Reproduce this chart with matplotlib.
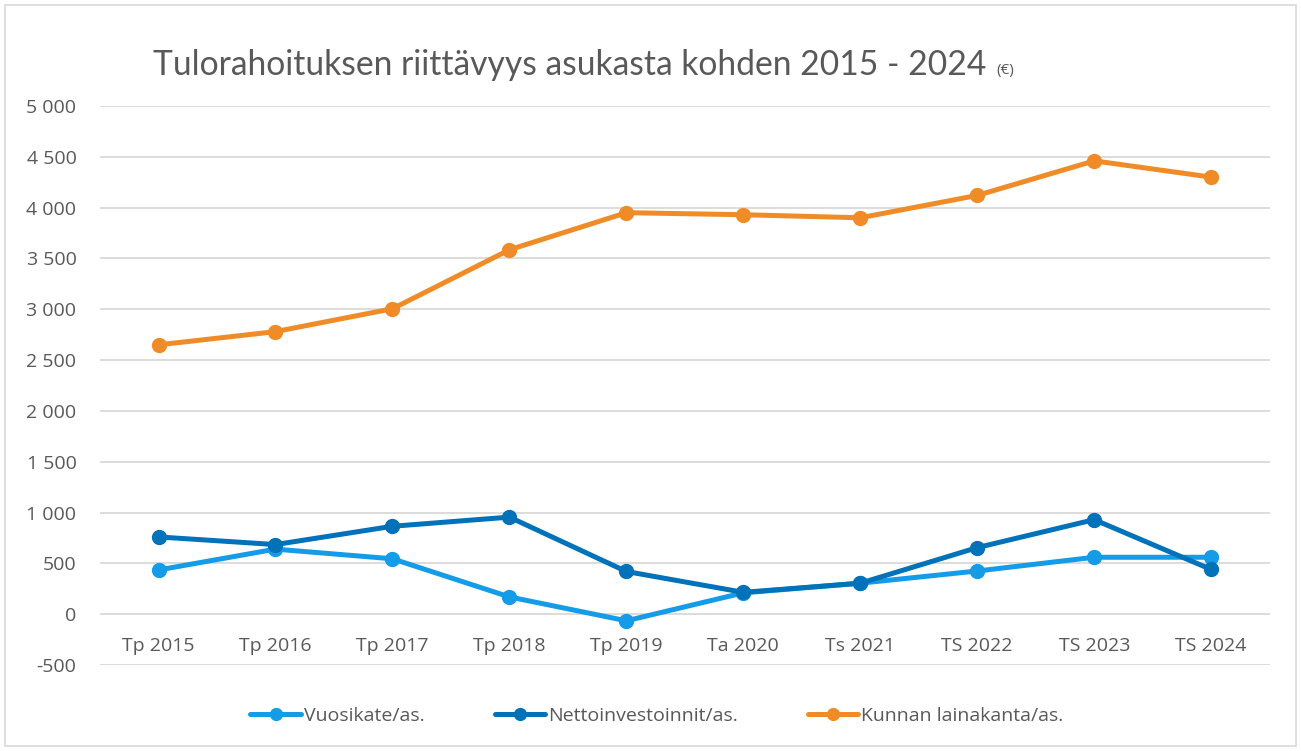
import matplotlib.pyplot as plt
from matplotlib.patches import Rectangle
from matplotlib.ticker import FuncFormatter

# data
categories = ['Tp 2015', 'Tp 2016', 'Tp 2017', 'Tp 2018', 'Tp 2019',
              'Ta 2020', 'Ts 2021', 'TS 2022', 'TS 2023', 'TS 2024']
vuosikate = [435, 640, 545, 170, -65, 210, 305, 425, 560, 560]
nettoinvestoinnit = [760, 685, 865, 955, 420, 215, 305, 655, 930, 440]
lainakanta = [2650, 2780, 3005, 3585, 3950, 3930, 3900, 4120, 4460, 4300]

series = [
    ('Vuosikate/as.', vuosikate, '#159CE8'),
    ('Nettoinvestoinnit/as.', nettoinvestoinnit, '#0072B9'),
    ('Kunnan lainakanta/as.', lainakanta, '#F08C27'),
]

text_col = '#595959'
plt.rcParams['font.family'] = ['Open Sans', 'DejaVu Sans']

fig = plt.figure(figsize=(13.01, 7.51), dpi=100)
ax = fig.add_axes([0.0769, 0.1145, 0.899, 0.7444])

x = range(len(categories))
for label, vals, col in series:
    ax.plot(x, vals, color=col, lw=3.6, marker='o', ms=10, label=label,
            solid_capstyle='round')

ax.set_xlim(-0.5, len(categories) - 0.5)
ax.set_ylim(-500, 5000)
ax.set_yticks(range(-500, 5001, 500))
ax.yaxis.set_major_formatter(FuncFormatter(lambda v, p: f'{int(v):,}'.replace(',', ' ')))
ax.grid(axis='y', color='#D9D9D9', lw=1.3)
ax.set_axisbelow(True)
for s in ax.spines.values():
    s.set_visible(False)
ax.tick_params(axis='y', length=0, pad=17, labelsize=14, labelcolor=text_col)
ax.set_xticks([])

# category labels sit just below the zero line
for i, c in enumerate(categories):
    ax.text(i, -310, c, ha='center', va='center', fontsize=14, color=text_col)

title = fig.text(0.1175, 0.913, 'Tulorahoituksen riittävyys asukasta kohden 2015 - 2024',
                 fontsize=24.2, color=text_col, family=['Lato', 'DejaVu Sans'], va='center')
fig.canvas.draw()
bb = title.get_window_extent().transformed(fig.transFigure.inverted())
fig.text(bb.x1 + 0.008, 0.906, '(€)', fontsize=11, color=text_col, va='center')

leg = fig.legend(loc='center', bbox_to_anchor=(0.505, 0.047), ncol=3, frameon=False,
                 fontsize=14, handlelength=2.6, columnspacing=3.6, handletextpad=0.15,
                 markerscale=0.85)
for t in leg.get_texts():
    t.set_color(text_col)

fig.patches.append(Rectangle((0.004, 0.006), 0.992, 0.988, transform=fig.transFigure,
                             fill=False, edgecolor='#D9D9D9', lw=1.2))

fig.savefig('out.png', dpi=100)
